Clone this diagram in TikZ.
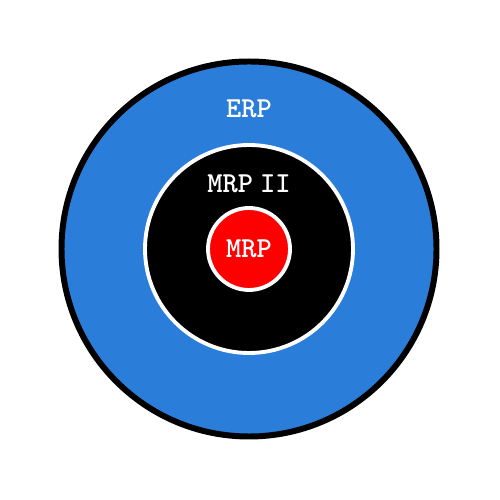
\documentclass[tikz,border=0pt]{standalone}
\usetikzlibrary{positioning, calc}

\definecolor{erpblue}{RGB}{42,126,218}

\begin{document}
\begin{tikzpicture}[
    ring/.style={circle, draw, inner sep=0pt},
    title/.style={font=\fontsize{16.5}{19}\selectfont\ttfamily\bfseries, text=white}
]
\useasboundingbox (0,0) rectangle (10,10);

% Circles
\node[ring, fill=erpblue, draw=black, line width=3.4pt, minimum size=7.5cm] (erp) at (4.98,5.02) {};
\node[ring, fill=black, draw=white, line width=2.2pt, minimum size=4.16cm] (mrp2) at (erp.center) {};
\node[ring, fill=red, draw=white, line width=2.2pt, minimum size=1.64cm] (mrp) at (erp.center) {};

% Labels
\node[title] (erpLabel) at ($(erp.north) - (0,1.0)$) {ERP};
\node[title] (mrp2Label) at ($(mrp2.north) - (0,0.81)$) {MRP\hspace{0.25em}II};
\node[title] (mrpLabel) at ($(mrp.center) + (0,0.0)$) {MRP};

\end{tikzpicture}
\end{document}
